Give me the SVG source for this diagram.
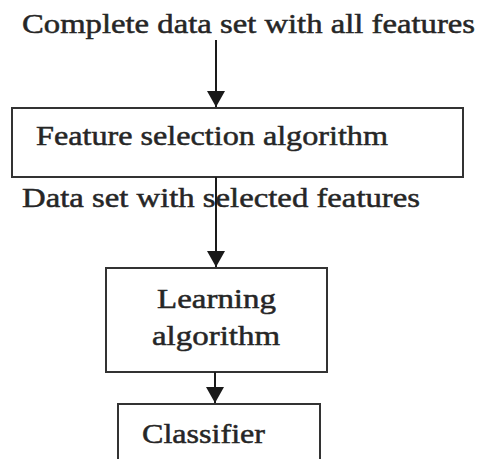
<svg xmlns="http://www.w3.org/2000/svg" width="482" height="459" viewBox="0 0 482 459">
<style>
.t{font-family:"Liberation Serif","Times New Roman",serif;font-size:28px;fill:#262626;stroke:#262626;stroke-width:0.5;}
.box{fill:#fff;stroke:#333;stroke-width:2;}
.c{stroke:#1a1a1a;stroke-width:2;fill:none;}
</style>
<defs>
<marker id="ah" markerWidth="16" markerHeight="18" refX="16" refY="9" orient="auto" markerUnits="userSpaceOnUse" viewBox="0 0 16 18">
<path d="M0,0 L16,9 L0,18 Z" fill="#1a1a1a"/>
</marker>
</defs>
<rect width="482" height="459" fill="#fff"/>
<g id="input">
<text class="t" x="22" y="33" textLength="453" lengthAdjust="spacingAndGlyphs">Complete data set with all features</text>
</g>
<g id="feature-selection">
<rect class="box" x="12" y="108" width="451" height="69"/>
<text class="t" x="36" y="145" textLength="352" lengthAdjust="spacingAndGlyphs">Feature selection algorithm</text>
</g>
<g id="selected-label">
<text class="t" x="22" y="207" textLength="398" lengthAdjust="spacingAndGlyphs">Data set with selected features</text>
</g>
<g id="learning">
<rect class="box" x="106" y="268" width="221" height="104"/>
<text class="t" x="157" y="308" textLength="119" lengthAdjust="spacingAndGlyphs">Learning</text>
<text class="t" x="152" y="345" textLength="128" lengthAdjust="spacingAndGlyphs">algorithm</text>
</g>
<g id="classifier">
<rect class="box" x="118" y="404" width="202" height="70"/>
<text class="t" x="142" y="443" textLength="123" lengthAdjust="spacingAndGlyphs">Classifier</text>
</g>
<g id="connectors">
<line class="c" x1="216" y1="40" x2="216" y2="107" marker-end="url(#ah)"/>
<line class="c" x1="216" y1="177" x2="216" y2="267" marker-end="url(#ah)"/>
<line class="c" x1="215" y1="372" x2="215" y2="403" marker-end="url(#ah)"/>
</g>
</svg>
